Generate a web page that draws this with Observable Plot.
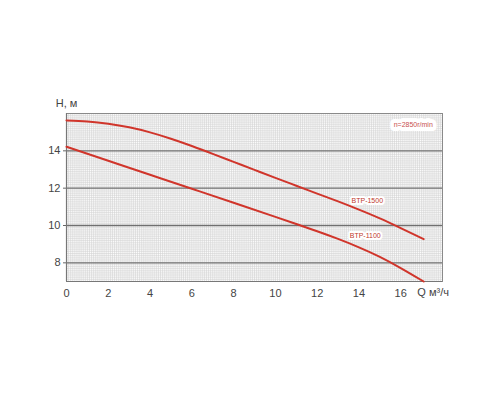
<!DOCTYPE html>
<html>
<head>
<meta charset="utf-8">
<script src="https://cdn.jsdelivr.net/npm/d3@7"></script>
<script src="https://cdn.jsdelivr.net/npm/@observablehq/plot@0.6"></script>
<style>
  html, body { margin: 0; padding: 0; background: #fff; }
  svg { display: block; }
</style>
</head>
<body>
<div id="chart"></div>
<script>
// Flow Q, m³/h and head H, m
const q1500 = [0, 1, 2, 3, 4, 5, 6, 7, 8, 9, 10, 11, 12, 13, 14, 15, 16, 17.1];
const h1500 = [15.63, 15.57, 15.45, 15.26, 14.99, 14.65, 14.26, 13.84, 13.41, 12.98, 12.55, 12.13, 11.71, 11.29, 10.85, 10.38, 9.86, 9.27];
const q1100 = [0, 2, 4, 6, 8, 10, 11, 12, 13, 14, 15, 16, 17.1];
const h1100 = [14.22, 13.47, 12.72, 11.97, 11.22, 10.46, 10.08, 9.69, 9.28, 8.83, 8.32, 7.72, 7.0];
const xTicks = [0, 2, 4, 6, 8, 10, 12, 14, 16];
const yTicks = [8, 10, 12, 14];
const seriesLabels = ["BTP-1500", "BTP-1100"];
const labelQ = [14.4, 14.3];
const labelH = [11.3, 9.45];
const speedNote = "n=2850r/min";

const d1500 = q1500.map((q, i) => ({q, h: h1500[i]}));
const d1100 = q1100.map((q, i) => ({q, h: h1100[i]}));
const labels = seriesLabels.map((s, i) => ({s, q: labelQ[i], h: labelH[i]}));

const minorX = d3.range(0, 181).map(i => i / 10);
const minorY = d3.range(70, 161).map(i => i / 10);
const red = "#d0352b";

const chart = Plot.plot({
  width: 500,
  height: 400,
  marginLeft: 66,
  marginRight: 58,
  marginTop: 113,
  marginBottom: 119,
  style: {fontFamily: "'Liberation Sans', Arial, sans-serif", fontSize: "11px", color: "#333", background: "#fff"},
  x: {domain: [0, 18]},
  y: {domain: [7, 16]},
  marks: [
    Plot.ruleX(minorX, {stroke: "#d2d2d2", strokeWidth: 0.6}),
    Plot.ruleY(minorY, {stroke: "#d2d2d2", strokeWidth: 0.6}),
    Plot.ruleY(yTicks, {stroke: "#707070", strokeWidth: 1.3}),
    Plot.frame({stroke: "#8a8a8a", strokeWidth: 1}),
    Plot.ruleX([0], {stroke: "#777", strokeWidth: 1.2}),
    Plot.ruleY([7], {stroke: "#777", strokeWidth: 1.2}),
    Plot.axisX({ticks: xTicks, tickSize: 0, tickPadding: 8, label: null, fontSize: 11, fill: "#444"}),
    Plot.axisY({ticks: yTicks, tickSize: 3, tickPadding: 3, label: null, fontSize: 11, fill: "#444", stroke: "#666"}),
    Plot.line(d1500, {x: "q", y: "h", stroke: red, strokeWidth: 2, curve: "natural"}),
    Plot.line(d1100, {x: "q", y: "h", stroke: red, strokeWidth: 2, curve: "natural"}),
    Plot.text(labels, {x: "q", y: "h", text: "s", fill: "#c0392b", stroke: "white", strokeWidth: 4, fontSize: 7}),
    Plot.text([speedNote], {x: 16.6, y: 15.4, text: d => d, fill: "#c85050", stroke: "white", strokeWidth: 8, fontSize: 7}),
    Plot.text(["H, м"], {x: 0, y: 16, dy: -10, text: d => d, fill: "#444", fontSize: 11}),
    Plot.text(["Q м³/ч"], {x: 17.55, y: 7, dy: 11, text: d => d, fill: "#444", fontSize: 11})
  ]
});
document.getElementById("chart").append(chart);
</script>
</body>
</html>
